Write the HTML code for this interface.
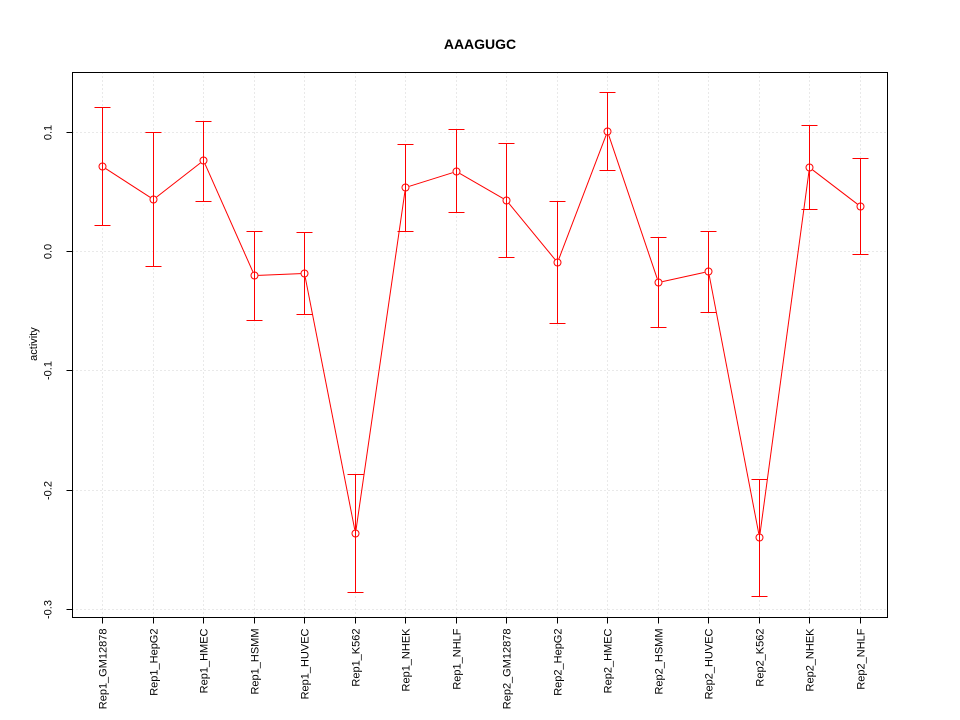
<!DOCTYPE html>
<html><head><meta charset="utf-8"><style>
body{margin:0;background:#fff;}
svg{display:block;font-family:"Liberation Sans",Arial,sans-serif;}
</style></head><body>
<svg id="chart" width="960" height="720" viewBox="0 0 960 720"></svg>
<script>
const categories=["Rep1_GM12878","Rep1_HepG2","Rep1_HMEC","Rep1_HSMM","Rep1_HUVEC","Rep1_K562","Rep1_NHEK","Rep1_NHLF","Rep2_GM12878","Rep2_HepG2","Rep2_HMEC","Rep2_HSMM","Rep2_HUVEC","Rep2_K562","Rep2_NHEK","Rep2_NHLF"];
const values=[0.0712,0.0436,0.0763,-0.0201,-0.0184,-0.2364,0.0536,0.0671,0.0427,-0.0092,0.1006,-0.026,-0.0168,-0.2397,0.0704,0.0377];
const upper=[0.1207,0.0997,0.109,0.0168,0.0159,-0.187,0.0897,0.1023,0.0905,0.0419,0.1333,0.0117,0.0168,-0.191,0.1056,0.0779];
const lower=[0.0218,-0.0126,0.0419,-0.0578,-0.0528,-0.2858,0.0168,0.0327,-0.005,-0.0604,0.0679,-0.0637,-0.0511,-0.2892,0.0352,-0.0025];
const yTicks=[0.1,0.0,-0.1,-0.2,-0.3];
const yTickLabels=["0.1","0.0","-0.1","-0.2","-0.3"];

const svg=document.getElementById('chart');
const NS='http://www.w3.org/2000/svg';
const L=72.5,R=887.5,T=72.5,B=617.5;
function yS(v){return Math.round(251-v*1193)+0.5;}
function xS(i){return Math.round(102+i*(860-102)/(categories.length-1))+0.5;}
function mk(tag,attrs,parent){const e=document.createElementNS(NS,tag);for(const k in attrs)e.setAttribute(k,attrs[k]);(parent||svg).appendChild(e);return e;}

const grid=mk('g',{});


categories.forEach((c,i)=>{const l=mk('line',{x1:xS(i),x2:xS(i),y1:T,y2:B,stroke:'#d3d3d3','stroke-dasharray':'1,3','stroke-width':1},grid);

});
yTicks.forEach(v=>{const l=mk('line',{x1:L,x2:R,y1:yS(v),y2:yS(v),stroke:'#d3d3d3','stroke-dasharray':'1,3','stroke-width':1},grid);

});

const box=mk('rect',{x:L,y:T,width:R-L,height:B-T,fill:'none',stroke:'#000','stroke-width':1});



const title=mk('text',{x:480,y:49,'text-anchor':'middle','font-size':14,'font-weight':'bold'});
title.textContent='AAAGUGC';



const ylab=mk('text',{x:0,y:0,transform:'translate(37,344) rotate(-90)','text-anchor':'middle','font-size':11});
ylab.textContent='activity';



const yAxis=mk('g',{});


yTicks.forEach((v,i)=>{mk('line',{x1:L-6,x2:L,y1:yS(v),y2:yS(v),stroke:'#000','stroke-width':1},yAxis);
const t=mk('text',{x:0,y:0,transform:`translate(${L-21},${yS(v)}) rotate(-90)`,'text-anchor':'middle','font-size':11},yAxis);
t.textContent=yTickLabels[i];

});

const xAxis=mk('g',{});


categories.forEach((c,i)=>{mk('line',{x1:xS(i),x2:xS(i),y1:B,y2:B+6,stroke:'#000','stroke-width':1},xAxis);
const t=mk('text',{x:0,y:0,transform:`translate(${xS(i)+4},${B+11}) rotate(-90)`,'text-anchor':'end','font-size':11},xAxis);
t.textContent=c;

});

const series=mk('g',{stroke:'#ff0000',fill:'none','stroke-width':1});


categories.forEach((c,i)=>{const x=xS(i);
const eb=mk('path',{d:`M${x},${yS(upper[i])}V${yS(lower[i])}M${x-8},${yS(upper[i])}H${x+8}M${x-8},${yS(lower[i])}H${x+8}`},series);

});
for(let i=0;i<values.length-1;i++){
const x1=xS(i),y1=yS(values[i]),x2=xS(i+1),y2=yS(values[i+1]);
const d=Math.hypot(x2-x1,y2-y1),r=4;
const l=mk('line',{x1:x1+(x2-x1)*r/d,y1:y1+(y2-y1)*r/d,x2:x2-(x2-x1)*r/d,y2:y2-(y2-y1)*r/d},series);

}
values.forEach((v,i)=>{const p=mk('circle',{cx:xS(i),cy:yS(v),r:3.5},series);

});
</script>
</body></html>
